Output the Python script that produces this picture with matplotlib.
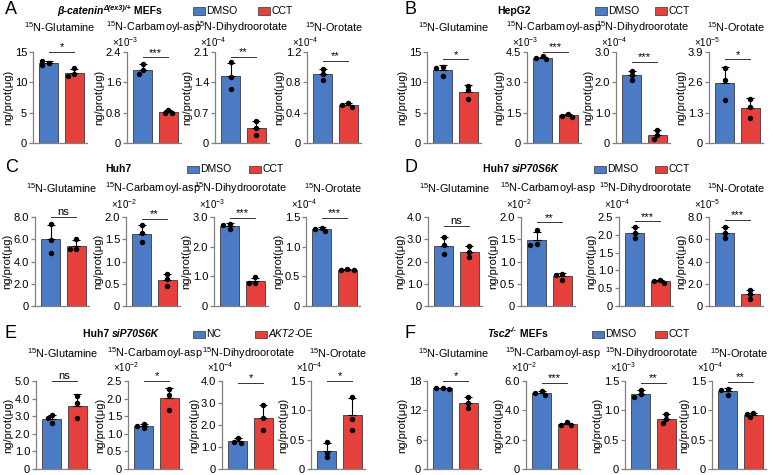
import numpy as np
import matplotlib
matplotlib.use("Agg")
import matplotlib.pyplot as plt
from matplotlib.patches import Rectangle
from matplotlib import transforms

plt.rcParams['font.family'] = ['Liberation Sans', 'DejaVu Sans']
plt.rcParams['mathtext.fontset'] = 'custom'
plt.rcParams['mathtext.rm'] = 'Liberation Sans'
plt.rcParams['mathtext.it'] = 'Liberation Sans:italic'
plt.rcParams['mathtext.bf'] = 'Liberation Sans:bold'

# ---------------- data ----------------
metabolites = ["Glutamine", "Carbamoyl-asp", "Dihydroorotate", "Orotate"]

A_groups = ["DMSO", "CCT"]
A_ctrl = [[13.2, 13.5, 12.8], [2.08, 1.92, 1.81], [1.86, 1.53, 1.24], [0.97, 0.91, 0.83]]
A_treat = [[12.3, 11.45, 11.1], [0.88, 0.78, 0.78], [0.51, 0.34, 0.19], [0.53, 0.50, 0.48]]
A_exp = [None, -3, -4, -4]
A_ymax = [15, 2.4, 2.1, 1.2]
A_nint = [3, 3, 3, 3]
A_dec = [0, 1, 1, 1]
A_sig = ["*", "***", "**", "**"]

B_groups = ["DMSO", "CCT"]
B_ctrl = [[12.6, 12.4, 11.0], [4.28, 4.18, 4.15], [2.37, 2.23, 2.09], [3.2, 2.7, 1.85]]
B_treat = [[9.4, 8.7, 7.2], [1.45, 1.35, 1.28], [0.44, 0.26, 0.13], [1.89, 1.56, 1.09]]
B_exp = [None, -3, -4, -5]
B_ymax = [15, 4.5, 3.0, 3.9]
B_nint = [3, 3, 3, 3]
B_dec = [0, 1, 1, 1]
B_sig = ["*", "***", "***", "*"]

C_groups = ["DMSO", "CCT"]
C_ctrl = [[7.35, 5.9, 4.75], [1.81, 1.63, 1.44], [2.78, 2.74, 2.61], [1.32, 1.30, 1.26]]
C_treat = [[6.0, 5.15, 5.1], [0.71, 0.61, 0.46], [0.97, 0.79, 0.76], [0.62, 0.61, 0.60]]
C_exp = [None, -2, -3, -4]
C_ymax = [8.0, 2.0, 3.0, 1.5]
C_nint = [4, 4, 3, 3]
C_dec = [1, 1, 1, 1]
C_sig = ["ns", "**", "***", "***"]

D_groups = ["DMSO", "CCT"]
D_ctrl = [[3.08, 2.74, 2.33], [1.70, 1.39, 1.36], [2.22, 2.04, 1.90], [7.1, 6.58, 6.07]]
D_treat = [[2.71, 2.44, 2.18], [0.72, 0.69, 0.59], [0.74, 0.70, 0.66], [1.48, 1.04, 0.59]]
D_exp = [None, -2, -4, -5]
D_ymax = [4.0, 2.0, 2.5, 8.0]
D_nint = [4, 4, 5, 4]
D_dec = [1, 1, 1, 1]
D_sig = ["ns", "**", "***", "***"]

E_groups = ["NC", "AKT2-OE"]
E_ctrl = [[3.06, 2.88, 2.63], [1.28, 1.23, 1.16], [1.43, 1.25, 1.20], [0.46, 0.28, 0.20]]
E_treat = [[4.15, 3.76, 2.91], [2.26, 2.10, 1.69], [2.93, 2.30, 1.77], [1.23, 0.86, 0.66]]
E_exp = [None, -2, -4, -4]
E_ymax = [5.0, 2.5, 4.0, 1.5]
E_nint = [5, 5, 4, 3]
E_dec = [1, 1, 1, 1]
E_sig = ["ns", "*", "*", "*"]

F_groups = ["DMSO", "CCT"]
F_ctrl = [[16.6, 16.5, 16.4], [5.3, 5.18, 5.07], [1.35, 1.27, 1.23], [1.36, 1.35, 1.26]]
F_treat = [[14.75, 13.4, 12.4], [3.18, 3.02, 2.98], [0.94, 0.85, 0.78], [0.95, 0.94, 0.89]]
F_exp = [None, -2, -3, -4]
F_ymax = [18, 6.0, 1.5, 1.5]
F_nint = [3, 3, 3, 3]
F_dec = [0, 1, 1, 1]
F_sig = ["*", "***", "**", "**"]

# ---------------- style / layout ----------------
W, H = 773, 475
BLUE = '#4A7BC4'
RED = '#E6403C'
SPINE = '#808080'
AXW = 54

BI = dict(weight='bold', style='italic')
B_ = dict(weight='bold')

panels = [
    dict(letter='A', groups=A_groups, ctrl=A_ctrl, treat=A_treat, exp=A_exp, ymax=A_ymax, nint=A_nint,
         dec=A_dec, sig=A_sig, spines=[33, 127, 215, 307], row=0, lx=5, hx=57, legx=[193, 258],
         sigy=[1.0, 0.94, 0.95, 0.90],
         header=[("β-catenin", dict(BI, size=7.5)), ("Δ(ex3)/+", dict(BI, size=5.2, dy=3)), (" MEFs", dict(B_, size=7.5))]),
    dict(letter='B', groups=B_groups, ctrl=B_ctrl, treat=B_treat, exp=B_exp, ymax=B_ymax, nint=B_nint,
         dec=B_dec, sig=B_sig, spines=[427, 527, 616, 709], row=0, lx=404, hx=497, legx=[595, 655],
         sigy=[0.92, 1.0, 0.89, 0.92],
         header=[("HepG2", dict(B_, size=7.5))]),
    dict(letter='C', groups=C_groups, ctrl=C_ctrl, treat=C_treat, exp=C_exp, ymax=C_ymax, nint=C_nint,
         dec=C_dec, sig=C_sig, spines=[35, 126, 214, 306], row=1, lx=5, hx=105, legx=[187, 249],
         sigy=[1.0, 0.98, 0.99, 0.99],
         header=[("Huh7", dict(B_, size=7.5))]),
    dict(letter='D', groups=D_groups, ctrl=D_ctrl, treat=D_treat, exp=D_exp, ymax=D_ymax, nint=D_nint,
         dec=D_dec, sig=D_sig, spines=[428, 521, 619, 709], row=1, lx=404, hx=483, legx=[594, 655],
         sigy=[0.90, 0.94, 0.95, 0.97],
         header=[("Huh7 ", dict(B_, size=7.5)), ("siP70S6K", dict(BI, size=7.5))]),
    dict(letter='E', groups=E_groups, ctrl=E_ctrl, treat=E_treat, exp=E_exp, ymax=E_ymax, nint=E_nint,
         dec=E_dec, sig=E_sig, spines=[36, 128, 222, 311], row=2, lx=5, hx=83, legx=[193, 255],
         sigy=[1.0, 1.0, 0.98, 1.0],
         header=[("Huh7 ", dict(B_, size=7.5)), ("siP70S6K", dict(BI, size=7.5))]),
    dict(letter='F', groups=F_groups, ctrl=F_ctrl, treat=F_treat, exp=F_exp, ymax=F_ymax, nint=F_nint,
         dec=F_dec, sig=F_sig, spines=[427, 526, 625, 712], row=2, lx=404, hx=487, legx=[592, 655],
         sigy=[1.0, 0.98, 0.98, 0.99],
         header=[("Tsc2", dict(BI, size=7.5)), ("-/-", dict(BI, size=5.2, dy=3)), (" MEFs", dict(B_, size=7.5))]),
]

rows = [dict(top=52, bot=143, title=27.5, mult=10, head=11),
        dict(top=217, bot=306, title=188, mult=13, head=169),
        dict(top=381, bot=469, title=353, mult=14, head=334)]

fig = plt.figure(figsize=(W / 100, H / 100), dpi=100)
renderer = fig.canvas.get_renderer()


def fx(x):
    return x / W


def fy(y):
    return 1 - y / H


def rich(x, y, pieces):
    for txt, kw in pieces:
        kw2 = dict(kw)
        dy = kw2.pop('dy', 0)
        t = fig.text(fx(x), fy(y - dy), txt, va='center', ha='left', **kw2)
        bb = t.get_window_extent(renderer=renderer)
        x = bb.x1
    return x


def swarm(vals, ymax, hpx, upx):
    placed, xs = [], []
    for v in vals:
        yp = v / ymax * hpx
        for off in [0, -0.13, 0.13, -0.26, 0.26]:
            if all(((off - o) * upx) ** 2 + (yp - p) ** 2 >= 4.2 ** 2 for o, p in placed):
                break
        placed.append((off, yp))
        xs.append(off)
    return np.array(xs)


XL = (-0.62, 1.5)
BW = 0.74

for P in panels:
    R = rows[P['row']]
    # header
    fig.text(fx(P['lx']), fy(R['head'] - 1), P['letter'], fontsize=13, va='center', ha='left')
    rich(P['hx'], R['head'], P['header'])
    for gi, (gx, col) in enumerate(zip(P['legx'], [BLUE, RED])):
        fig.add_artist(Rectangle((fx(gx), fy(R['head'] + 3.5)), 12 / W, 7 / H, transform=fig.transFigure,
                                 facecolor=col, edgecolor='#333333', lw=0.5))
        g = P['groups'][gi]
        if g == "AKT2-OE":
            rich(gx + 13.5, R['head'], [("AKT2", dict(size=7.5, style='italic')), ("-OE", dict(size=7.5))])
        else:
            fig.text(fx(gx + 13.5), fy(R['head']), g, fontsize=7.5, va='center', ha='left')

    hpx = R['bot'] - R['top']
    upx = AXW / (XL[1] - XL[0])
    for i in range(4):
        sx = P['spines'][i]
        ax = fig.add_axes([fx(sx), fy(R['bot']), AXW / W, hpx / H])
        ymax = P['ymax'][i]
        for j, (vals, col) in enumerate(zip([P['ctrl'][i], P['treat'][i]], [BLUE, RED])):
            vals = np.array(vals)
            m = vals.mean()
            sd = vals.std(ddof=1)
            ax.bar(j, m, width=BW, color=col, edgecolor='#3a3a3a', linewidth=0.6, zorder=2)
            ax.errorbar(j, m, yerr=[[0], [sd]], fmt='none', ecolor='black', elinewidth=0.8,
                        capsize=2.8, capthick=0.8, zorder=3)
            offs = swarm(vals, ymax, hpx, upx)
            ax.plot(j + offs, vals, 'o', ms=2.9, color='black', mec='black', zorder=4, clip_on=False)
        ax.set_xlim(*XL)
        ax.set_ylim(0, ymax)
        ticks = np.linspace(0, ymax, P['nint'][i] + 1)
        ax.set_yticks(ticks)
        ax.set_yticklabels(["0" if t == 0 else f"{t:.{P['dec'][i]}f}" for t in ticks])
        ax.set_xticks([])
        for s in ['top', 'right']:
            ax.spines[s].set_visible(False)
        for s in ['left', 'bottom']:
            ax.spines[s].set_color(SPINE)
            ax.spines[s].set_linewidth(0.9)
        ax.tick_params(axis='y', length=3, width=0.9, color=SPINE, pad=1.2, labelsize=8)
        ax.set_ylabel("ng/prot(μg)", fontsize=8, labelpad=1)
        # significance
        sy = P['sigy'][i]
        tr = transforms.blended_transform_factory(ax.transData, ax.transAxes)
        ax.plot([0, 1], [sy, sy], color='#333333', lw=0.7, transform=tr, clip_on=False)
        ttr = transforms.offset_copy(tr, fig=fig, y=1.2, units='points')
        ax.text(0.5, sy, P['sig'][i], transform=ttr, ha='center', va='baseline', fontsize=8)
        # title
        fig.text(fx(sx + AXW / 2), fy(R['title']), "$^{15}$N-" + metabolites[i], fontsize=7.8,
                 ha='center', va='center')
        # multiplier
        e = P['exp'][i]
        if e is not None:
            fig.text(fx(sx - 15), fy(R['top'] - R['mult']), "×10$^{%d}$" % e, fontsize=7.0,
                     ha='left', va='center')

fig.savefig("out.png", dpi=100)
